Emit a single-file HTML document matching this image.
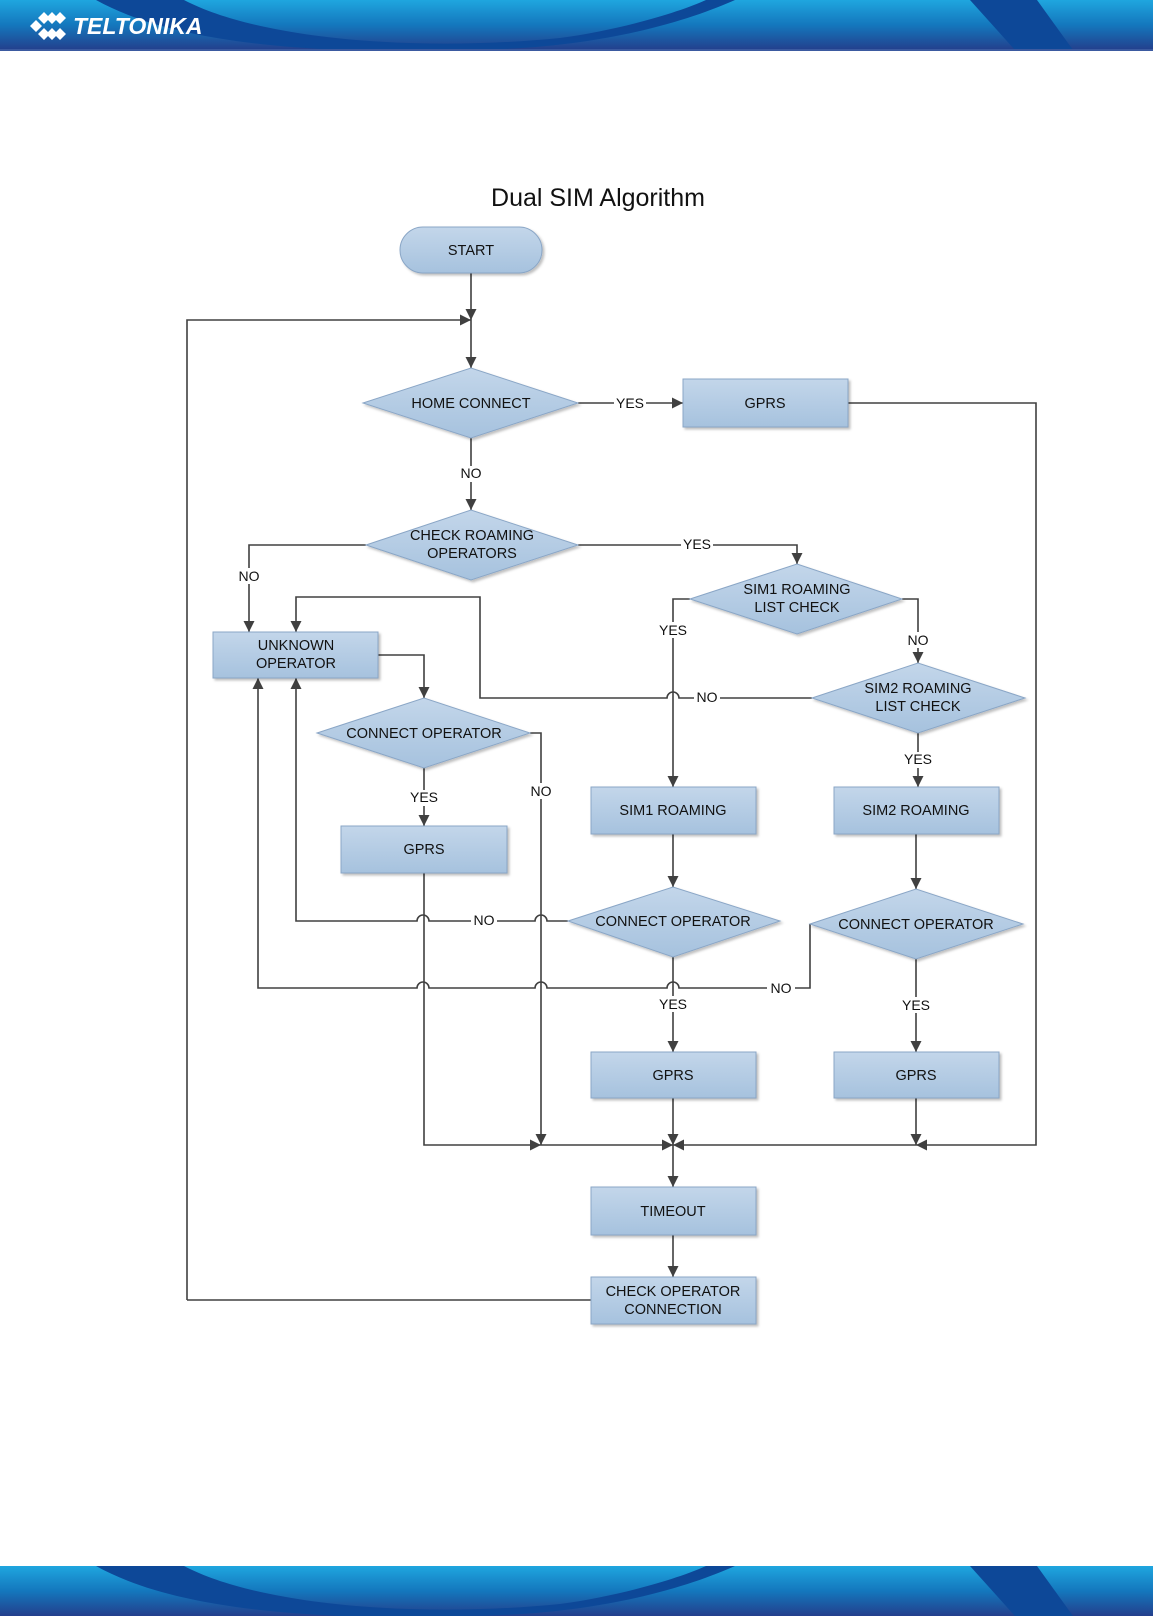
<!DOCTYPE html>
<html><head><meta charset="utf-8"><style>
html,body{margin:0;padding:0;background:#fff;}
svg{display:block;}
text{font-family:"Liberation Sans",Arial,sans-serif;}
</style></head><body>
<svg width="1153" height="1616" viewBox="0 0 1153 1616" xmlns="http://www.w3.org/2000/svg">
<defs>
<linearGradient id="band" x1="0" y1="0" x2="0" y2="1">
<stop offset="0" stop-color="#1fa6df"/><stop offset="0.5" stop-color="#1477bd"/><stop offset="1" stop-color="#233f8c"/>
</linearGradient>
<linearGradient id="nf" x1="0" y1="0" x2="0" y2="1">
<stop offset="0" stop-color="#c3d6ea"/><stop offset="1" stop-color="#a6c2de"/>
</linearGradient>
<filter id="sh" x="-10%" y="-10%" width="130%" height="140%"><feDropShadow dx="2" dy="2" stdDeviation="1.2" flood-color="#000" flood-opacity="0.25"/></filter>
<marker id="ar" viewBox="0 0 10 10" refX="10" refY="5" markerWidth="11" markerHeight="11" markerUnits="userSpaceOnUse" orient="auto"><path d="M0,0 L10,5 L0,10 z" fill="#404040"/></marker>
</defs>

<!-- header -->
<rect x="0" y="0" width="1153" height="50" fill="url(#band)"/>
<path d="M96,0 L184,0 C260,40 420,52 560,38 C620,30 680,12 706,0 L735,0 C690,20 600,50 460,50 L340,50 C230,45 150,30 96,0z" fill="#0d4898"/>
<path d="M970,0 L1037,0 L1073,50 L1015,50 z" fill="#0d4898"/>
<rect x="0" y="49" width="1153" height="2" fill="#3b5aa0"/>
<g fill="#fff">
<path d="M44,12 l6,6 l-6,6 l-6,-6z M52,12 l6,6 l-6,6 l-6,-6z M60,12 l6,6 l-6,6 l-6,-6z"/>
<path d="M36,20 l6,6 l-6,6 l-6,-6z M44,28 l6,6 l-6,6 l-6,-6z M52,28 l6,6 l-6,6 l-6,-6z M60,28 l6,6 l-6,6 l-6,-6z"/>
</g>
<text x="73" y="34" font-size="23" font-weight="bold" font-style="italic" fill="#fff">TELTONIKA</text>

<!-- footer -->
<rect x="0" y="1566" width="1153" height="50" fill="url(#band)"/>
<path d="M96,1566 L184,1566 C260,1606 420,1618 560,1604 C620,1596 680,1578 706,1566 L735,1566 C690,1586 600,1616 460,1616 L340,1616 C230,1611 150,1596 96,1566z" fill="#0d4898"/>
<path d="M970,1566 L1037,1566 L1073,1616 L1015,1616 z" fill="#0d4898"/>

<text x="598" y="206" font-size="25" text-anchor="middle" fill="#111">Dual SIM Algorithm</text>

<!-- connectors -->
<g stroke="#404040" stroke-width="1.6" fill="none">
<path d="M471,273 V320" marker-end="url(#ar)"/>
<path d="M187,1300 V320 H471" marker-end="url(#ar)"/>
<path d="M471,320 V368" marker-end="url(#ar)"/>
<path d="M578,403 H683" marker-end="url(#ar)"/>
<path d="M848,403 H1036 V1145 H916" marker-end="url(#ar)"/>
<path d="M916,1145 H673" marker-end="url(#ar)"/>
<path d="M471,438 V510" marker-end="url(#ar)"/>
<path d="M366,545 H249 V632" marker-end="url(#ar)"/>
<path d="M578,545 H797 V564" marker-end="url(#ar)"/>
<path d="M690,599 H673 V787" marker-end="url(#ar)"/>
<path d="M902,599 H918 V663" marker-end="url(#ar)"/>
<path d="M918,733 V787" marker-end="url(#ar)"/>
<path d="M812,698 H679 a6,6 0 0 0 -12,0 H480 V597 H296 V632" marker-end="url(#ar)"/>
<path d="M378,655 H424 V698" marker-end="url(#ar)"/>
<path d="M424,768 V826" marker-end="url(#ar)"/>
<path d="M530,733 H541 V1145" marker-end="url(#ar)"/>
<path d="M424,873 V1145 H541" marker-end="url(#ar)"/>
<path d="M541,1145 H673" marker-end="url(#ar)"/>
<path d="M673,834 V887" marker-end="url(#ar)"/>
<path d="M916,834 V889" marker-end="url(#ar)"/>
<path d="M568,921 H547 a6,6 0 0 0 -12,0 H429 a6,6 0 0 0 -12,0 H296 V678" marker-end="url(#ar)"/>
<path d="M810,924 V988 H679 a6,6 0 0 0 -12,0 H547 a6,6 0 0 0 -12,0 H429 a6,6 0 0 0 -12,0 H258 V678" marker-end="url(#ar)"/>
<path d="M673,957 V1052" marker-end="url(#ar)"/>
<path d="M916,959 V1052" marker-end="url(#ar)"/>
<path d="M673,1098 V1145" marker-end="url(#ar)"/>
<path d="M916,1098 V1145" marker-end="url(#ar)"/>
<path d="M673,1145 V1187" marker-end="url(#ar)"/>
<path d="M673,1235 V1277" marker-end="url(#ar)"/>
<path d="M591,1300 H187"/>
</g>

<!-- label backgrounds + labels -->
<g font-size="14" fill="#111" text-anchor="middle">
<rect x="614" y="395" width="32" height="16" fill="#fff"/><text x="630" y="408">YES</text>
<rect x="457" y="466" width="28" height="16" fill="#fff"/><text x="471" y="478">NO</text>
<rect x="681" y="537" width="32" height="16" fill="#fff"/><text x="697" y="549">YES</text>
<rect x="235" y="568" width="28" height="16" fill="#fff"/><text x="249" y="581">NO</text>
<rect x="657" y="622" width="32" height="16" fill="#fff"/><text x="673" y="635">YES</text>
<rect x="904" y="632" width="28" height="16" fill="#fff"/><text x="918" y="645">NO</text>
<rect x="694" y="690" width="26" height="16" fill="#fff"/><text x="707" y="702">NO</text>
<rect x="902" y="752" width="32" height="16" fill="#fff"/><text x="918" y="764">YES</text>
<rect x="408" y="790" width="32" height="16" fill="#fff"/><text x="424" y="802">YES</text>
<rect x="527" y="783" width="28" height="16" fill="#fff"/><text x="541" y="796">NO</text>
<rect x="471" y="913" width="26" height="16" fill="#fff"/><text x="484" y="925">NO</text>
<rect x="767" y="980" width="28" height="16" fill="#fff"/><text x="781" y="993">NO</text>
<rect x="657" y="996" width="32" height="16" fill="#fff"/><text x="673" y="1009">YES</text>
<rect x="900" y="997" width="32" height="16" fill="#fff"/><text x="916" y="1010">YES</text>
</g>

<!-- nodes -->
<g fill="url(#nf)" stroke="#8aa6c6" stroke-width="1" filter="url(#sh)">
<rect x="400" y="227" width="142" height="46" rx="23"/>
<polygon points="363,403 471,368 578,403 471,438"/>
<rect x="683" y="379" width="165" height="48"/>
<polygon points="366,545 471,510 578,545 471,580"/>
<polygon points="690,599 797,564 902,599 797,634"/>
<rect x="213" y="632" width="165" height="46"/>
<polygon points="812,698 918,663 1025,698 918,733"/>
<polygon points="317,733 424,698 530,733 424,768"/>
<rect x="591" y="787" width="165" height="47"/>
<rect x="834" y="787" width="165" height="47"/>
<rect x="341" y="826" width="166" height="47"/>
<polygon points="568,921 673,887 780,921 673,957"/>
<polygon points="810,924 916,889 1023,924 916,959"/>
<rect x="591" y="1052" width="165" height="46"/>
<rect x="834" y="1052" width="165" height="46"/>
<rect x="591" y="1187" width="165" height="48"/>
<rect x="591" y="1277" width="165" height="47"/>
</g>
<g font-size="14.5" fill="#111" text-anchor="middle">
<text x="471" y="255">START</text>
<text x="471" y="408">HOME CONNECT</text>
<text x="765" y="408">GPRS</text>
<text x="472" y="540">CHECK ROAMING</text>
<text x="472" y="558">OPERATORS</text>
<text x="797" y="594">SIM1 ROAMING</text>
<text x="797" y="612">LIST CHECK</text>
<text x="296" y="650">UNKNOWN</text>
<text x="296" y="668">OPERATOR</text>
<text x="918" y="693">SIM2 ROAMING</text>
<text x="918" y="711">LIST CHECK</text>
<text x="424" y="738">CONNECT OPERATOR</text>
<text x="673" y="815">SIM1 ROAMING</text>
<text x="916" y="815">SIM2 ROAMING</text>
<text x="424" y="854">GPRS</text>
<text x="673" y="926">CONNECT OPERATOR</text>
<text x="916" y="929">CONNECT OPERATOR</text>
<text x="673" y="1080">GPRS</text>
<text x="916" y="1080">GPRS</text>
<text x="673" y="1216">TIMEOUT</text>
<text x="673" y="1296">CHECK OPERATOR</text>
<text x="673" y="1314">CONNECTION</text>
</g>
</svg>
</body></html>
